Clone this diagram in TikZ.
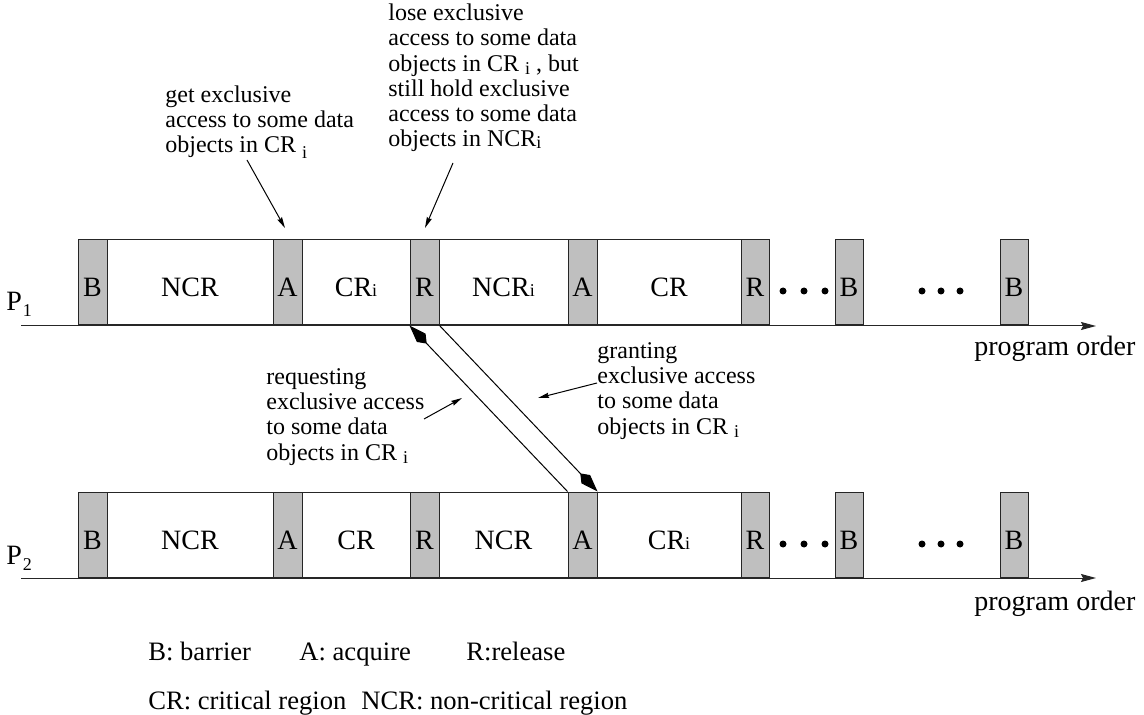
\documentclass[tikz,border=0pt]{standalone}
\usepackage{fontspec}
\setmainfont{Liberation Serif}
\usetikzlibrary{arrows.meta,fit}

\newcommand\bigf{\fontsize{14}{16}\selectfont}
\newcommand\legf{\fontsize{13.3}{15}\selectfont}
\newcommand\smf{\fontsize{12}{12.6}\selectfont}
% small index letter: #1 = gap before it, #2 = drop below baseline
\newcommand\idx[3]{\hspace{#1}\raisebox{-#2}{\fontsize{9}{9}\selectfont #3}}
% one cell of a time line: name, style, left x, right x, top y, label
\newcommand\cell[6]{%
  \node[#2, fit={(#3,#5) (#4,#5+85)}] (#1) {};
  \path (#1.center) ++(0,14.5) node[lbl] (#1-t) {#6};}

\begin{document}
\begin{tikzpicture}[x=0.5pt,y=-0.5pt,
  box/.style={draw=black!85, line width=0.5pt, inner sep=0pt},
  gcell/.style={box, fill=black!25},
  wcell/.style={box, fill=white},
  lbl/.style={font=\bigf, anchor=base, inner sep=0pt},
  axis/.style={line width=0.5pt, draw=black!85, -{Stealth[length=7.5pt,width=4pt,inset=1pt]}},
  msg/.style={line width=0.5pt, -{Kite[length=12.5pt,width=6pt,inset=4pt]}},
  ptr/.style={line width=0.5pt, -{Stealth[length=5.5pt,width=2.6pt,inset=0.6pt]}},
  note/.style={font=\smf, align=left, anchor=west, inner sep=0pt},
  txt/.style={font=\bigf, anchor=west, inner sep=0pt},
  leg/.style={font=\legf, anchor=base west, inner sep=0pt}
]
\fill[white] (0,0) rectangle (1144,715);
\useasboundingbox (0,0) rectangle (1144,715);

% ---------- process P1 ----------
\cell{tn1}{wcell}{107}{273}{240}{NCR}
\cell{tc1}{wcell}{302}{410}{240}{CR\idx{0pt}{0pt}{i}}
\cell{tn2}{wcell}{439}{568}{240}{NCR\idx{0pt}{0pt}{i}}
\cell{tc2}{wcell}{597}{741}{240}{CR}
\cell{tb1}{gcell}{78}{107}{240}{B}
\cell{ta1}{gcell}{273}{302}{240}{A}
\cell{tr1}{gcell}{410}{439}{240}{R}
\cell{ta2}{gcell}{568}{597}{240}{A}
\cell{tr2}{gcell}{741}{769}{240}{R}
\cell{tb2}{gcell}{835}{863}{240}{B}
\cell{tb3}{gcell}{1000}{1028}{240}{B}
\foreach \x in {783,804,825,922,941,960} \fill (\x,291) circle[radius=1.75pt];

\node[txt] (p1) at (6,304) {P\idx{0.5pt}{3pt}{1}};
\coordinate (t0) at (21,326);
\coordinate (t1) at (1096,326);
\draw[axis] (t0) -- (t1);
\node[txt] (po1) at (974,349) {program order};

% ---------- process P2 ----------
\cell{bn1}{wcell}{107}{273}{492}{NCR}
\cell{bc1}{wcell}{302}{410}{492}{CR}
\cell{bn2}{wcell}{439}{568}{492}{NCR}
\cell{bc2}{wcell}{597}{741}{492}{CR\idx{0pt}{0pt}{i}}
\cell{bb1}{gcell}{78}{107}{492}{B}
\cell{ba1}{gcell}{273}{302}{492}{A}
\cell{br1}{gcell}{410}{439}{492}{R}
\cell{ba2}{gcell}{568}{597}{492}{A}
\cell{br2}{gcell}{741}{769}{492}{R}
\cell{bb2}{gcell}{835}{863}{492}{B}
\cell{bb3}{gcell}{1000}{1028}{492}{B}
\foreach \x in {783,804,825,922,941,960} \fill (\x,544) circle[radius=1.75pt];

\node[txt] (p2) at (6,558) {P\idx{0.5pt}{3pt}{2}};
\coordinate (u0) at (21,578);
\coordinate (u1) at (1096,578);
\draw[axis] (u0) -- (u1);
\node[txt] (po2) at (974,604) {program order};

% ---------- messages between the processes ----------
\draw[msg] (ba2.north west) -- (tr1.south west);
\draw[msg] (tr1.south east) -- (ba2.north east);

% ---------- annotations ----------
\node[note] (get) at (165,122) {get exclusive\\access to some data\\objects in CR\idx{3pt}{3pt}{i}};
\coordinate (g0) at (247,160);
\coordinate (g1) at (285,228);
\draw[ptr] (g0) -- (g1);

\node[note] (lose) at (388,78) {lose exclusive\\access to some data\\objects in CR\idx{3pt}{1.5pt}{i} , but\\still hold exclusive\\access to some data\\objects in NCR\idx{0pt}{1pt}{i}};
\coordinate (l0) at (453,163);
\coordinate (l1) at (425,228);
\draw[ptr] (l0) -- (l1);

\node[note] (req) at (266,417) {requesting\\exclusive access\\to some data\\objects in CR\idx{3pt}{1.5pt}{i}};
\coordinate (q0) at (424,419);
\coordinate (q1) at (462,398);
\draw[ptr] (q0) -- (q1);

\node[note] (grant) at (597,391) {granting\\exclusive access\\to some data\\objects in CR\idx{3pt}{1.5pt}{i}};
\coordinate (r0) at (597,383);
\coordinate (r1) at (538,398);
\draw[ptr] (r0) -- (r1);

% ---------- legend ----------
\node[leg] (lb) at (148,660) {B: barrier};
\node[leg] (la) at (299,660) {A: acquire};
\node[leg] (lr) at (466,660) {R:release};
\node[leg] (lc) at (148,709) {CR: critical region};
\node[leg] (ln) at (361,709) {NCR: non-critical region};
\end{tikzpicture}
\end{document}
